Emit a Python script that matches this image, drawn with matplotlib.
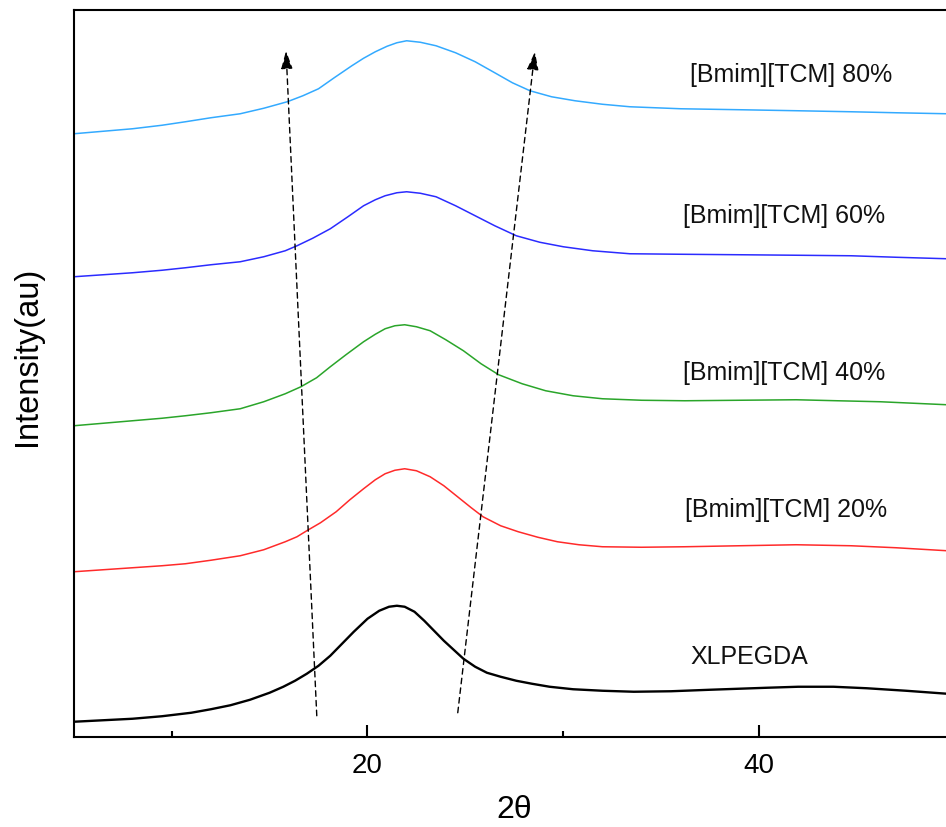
import matplotlib
matplotlib.use("Agg")
import matplotlib.pyplot as plt
from matplotlib.ticker import MultipleLocator

plt.rcParams['font.family'] = ['Liberation Sans', 'DejaVu Sans']

# values (2theta in degrees, intensity in arbitrary units)
x_black = [5.0, 6.5, 8.0, 9.5, 11.0, 12.0, 13.0, 14.0, 15.0, 15.7, 16.3, 16.9, 17.5, 18.1,
           18.7, 19.3, 20.0, 20.6, 21.1, 21.5, 21.9, 22.4, 22.9, 23.4, 23.9, 24.4, 24.9,
           25.5, 26.1, 26.8, 27.6, 28.4, 29.3, 30.5, 32.0, 33.6, 35.5, 37.5, 40.4, 42.0,
           43.8, 45.5, 47.5, 49.6]
y_black = [15, 16.5, 18, 20.5, 24, 27.5, 31.5, 37, 44, 50, 56, 63, 71, 81,
           93, 105, 118, 126, 130, 131, 130, 125, 116, 106, 96, 87, 78,
           70, 64, 60, 56, 53, 50, 47.5, 46, 45, 45.5, 47, 49, 50,
           50, 48.5, 46, 43]

x_red = [5.0, 6.5, 8.0, 9.5, 10.7, 12.0, 13.5, 14.7, 15.8, 16.4, 16.9, 17.6, 18.4, 19.1,
         19.8, 20.4, 20.9, 21.4, 21.9, 22.5, 23.2, 23.9, 24.6, 25.3, 25.9, 26.8, 27.7,
         28.7, 29.7, 30.8, 32.0, 34.0, 36.2, 39.0, 41.9, 44.7, 47.0, 49.6]
y_red = [165, 167, 169, 171, 173, 176.5, 181, 187, 195, 200, 206, 214, 225, 237,
         248, 257, 263, 266.5, 268, 266, 260, 251, 240, 229, 220, 211, 205,
         199.5, 195, 192, 190, 189.5, 190, 191, 192, 191, 189, 186]

x_green = [5.0, 6.5, 8.0, 9.5, 10.7, 12.0, 13.5, 14.7, 15.8, 16.6, 17.4, 18.1, 18.9, 19.8,
           20.4, 20.9, 21.4, 21.9, 22.5, 23.2, 24.0, 24.9, 25.8, 26.7, 27.9, 29.1, 30.5,
           32.0, 34.0, 36.2, 39.0, 41.9, 44.0, 46.2, 49.6]
y_green = [311, 313.5, 316, 318.5, 321, 324, 328, 335, 343, 350, 359, 370, 382, 395,
           402.5, 408, 411, 412, 410, 406, 397, 386, 373, 362, 353, 346, 341,
           338, 336.5, 336, 336.5, 337, 336, 335, 332]

x_blue = [5.0, 6.5, 8.0, 9.5, 10.7, 12.0, 13.5, 14.7, 15.8, 16.4, 17.2, 18.1, 19.0, 19.8,
          20.4, 20.9, 21.5, 22.0, 22.7, 23.5, 24.5, 25.5, 26.5, 27.6, 28.8, 30.0, 31.5,
          33.4, 36.0, 39.1, 42.0, 44.7, 47.0, 49.6]
y_blue = [460, 462, 464, 466.5, 469, 472, 475, 480, 486, 491, 498.5, 508, 520, 531,
          537, 541, 544, 545, 543.5, 540, 531, 521, 511, 501, 494.5, 490, 486,
          483, 482.5, 482, 481.5, 481, 479.5, 478]

x_sky = [5.0, 6.5, 8.0, 9.5, 10.7, 12.0, 13.5, 14.7, 15.9, 16.7, 17.5, 18.3, 19.2, 19.8,
         20.4, 21.0, 21.5, 22.0, 22.7, 23.5, 24.5, 25.5, 26.5, 27.4, 28.3, 29.4, 30.6,
         32.0, 33.4, 36.0, 39.1, 42.0, 44.7, 47.0, 49.6]
y_sky = [603, 605.5, 608, 611.5, 615, 619, 623, 628.5, 635, 641, 648, 659, 671, 678.5,
         685, 690.5, 694, 696, 694.5, 691, 684, 675, 664, 654, 646, 640, 636,
         632.5, 630, 628, 627, 626, 625, 624, 623]

labels = ['XLPEGDA', '[Bmim][TCM] 20%', '[Bmim][TCM] 40%', '[Bmim][TCM] 60%', '[Bmim][TCM] 80%']
label_x = [36.47, 36.24, 36.11, 36.11, 36.47]
label_y = [81, 228, 365, 522, 663]

# dashed guide arrows: (start, tip)
arrow_left = [(17.41, 21), (15.84, 686)]
arrow_right = [(24.61, 24), (28.55, 685)]

series = [(x_black, y_black, 'black', 1.7),
          (x_red, y_red, '#ff2a2a', 1.1),
          (x_green, y_green, '#2aa52a', 1.1),
          (x_blue, y_blue, '#2b2bff', 1.1),
          (x_sky, y_sky, '#33aaff', 1.1)]

fig = plt.figure(figsize=(9.46, 8.28), dpi=100)
ax = fig.add_axes([0.078, 0.109, 0.9314, 0.878])

for xs, ys, c, lw in series:
    ax.plot(xs, ys, color=c, lw=lw)

for lab, lx, ly in zip(labels, label_x, label_y):
    ax.text(lx, ly, lab, fontsize=18, ha='left', va='center', color='#111111')

for start, tip in (arrow_left, arrow_right):
    ax.annotate('', xy=tip, xytext=start,
                arrowprops=dict(arrowstyle='-|>,head_length=1.1,head_width=0.35',
                                mutation_scale=10, ls=(0, (4, 3)), lw=1.0,
                                color='black', shrinkA=0, shrinkB=0))

ax.set_xlim(5, 50)
ax.set_ylim(0, 727)

ax.xaxis.set_major_locator(MultipleLocator(20))
ax.xaxis.set_minor_locator(MultipleLocator(10))
ax.tick_params(axis='x', which='major', direction='in', length=8.6, width=1.5,
               labelsize=20, pad=11)
ax.tick_params(axis='x', which='minor', direction='in', length=4.3, width=1.5)
ax.set_yticks([])
for s in ax.spines.values():
    s.set_linewidth(1.5)

ax.set_xlabel('2θ', fontsize=23, va='center')
ax.xaxis.set_label_coords(0.5, -0.099)
ax.set_ylabel('Intensity(au)', fontsize=23.5, va='center')
ax.yaxis.set_label_coords(-0.053, 0.525)

fig.savefig('out.png', dpi=100)
